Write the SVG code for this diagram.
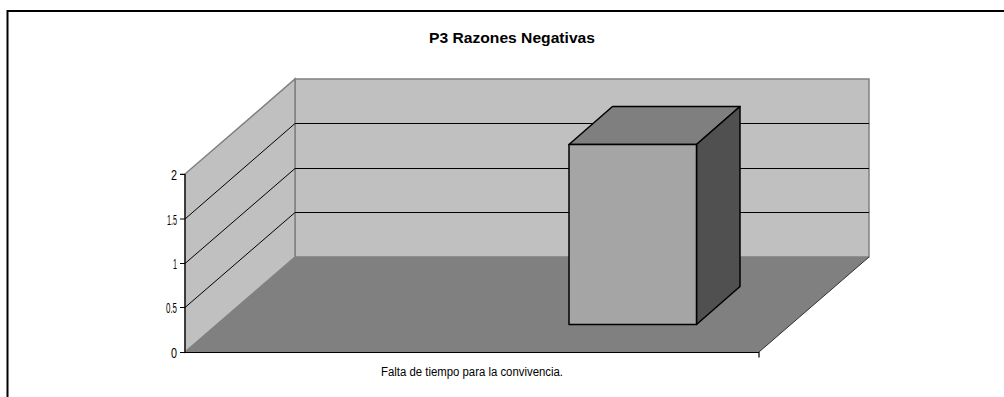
<svg xmlns="http://www.w3.org/2000/svg" width="1004" height="397" viewBox="0 0 1004 397">
<style>
.wall{fill:#C0C0C0;stroke:#808080;stroke-width:1.5}
.floor{fill:#808080;stroke:none}
.grid{stroke:#000;stroke-width:1;fill:none}
.axis{stroke:#000;stroke-width:1.2;fill:none}
.bar{stroke:#000;stroke-width:1.5;stroke-linejoin:round}
.tick{font-family:"Liberation Sans",Arial,sans-serif;font-size:14px;fill:#000;text-anchor:end}
</style>
<rect x="0" y="0" width="1004" height="397" fill="#fff"/>
<path d="M7.5 400 V11 H1010" fill="none" stroke="#000" stroke-width="2"/>
<text x="512" y="43" font-family="Liberation Sans,Arial,sans-serif" font-weight="bold" font-size="15.5" text-anchor="middle" textLength="166" lengthAdjust="spacingAndGlyphs">P3 Razones Negativas</text>
<g id="plot-area">
<polygon class="wall" points="295,79 869,79 869,257 295,257"/>
<polygon class="wall" points="185,174 295,79 295,257 185,352"/>
<polygon class="floor" points="185,352 295,257 869,257 759,352"/>
<line x1="759" y1="352" x2="869" y2="257" stroke="#333" stroke-width="1"/>
<g class="grid">
<line x1="295" y1="123.5" x2="869" y2="123.5"/>
<line x1="295" y1="168.5" x2="869" y2="168.5"/>
<line x1="295" y1="212.5" x2="869" y2="212.5"/>
<line x1="185" y1="219" x2="295" y2="123.5"/>
<line x1="185" y1="263.5" x2="295" y2="168.5"/>
<line x1="185" y1="307.5" x2="295" y2="212.5"/>
</g>
</g>
<g id="axis">
<path class="axis" d="M185 174 V352.5 H759 V357.5 M180 174.3 H185 M180 219 H185 M180 263.5 H185 M180 307.5 H185 M180 352.5 H185"/>
<text class="tick" x="177" y="180" textLength="6" lengthAdjust="spacingAndGlyphs">2</text>
<text class="tick" x="177" y="224.5" textLength="10" lengthAdjust="spacingAndGlyphs">1.5</text>
<text class="tick" x="177" y="269" textLength="4" lengthAdjust="spacingAndGlyphs">1</text>
<text class="tick" x="177" y="313" textLength="11" lengthAdjust="spacingAndGlyphs">0.5</text>
<text class="tick" x="177" y="358" textLength="6" lengthAdjust="spacingAndGlyphs">0</text>
<text x="472" y="376" font-family="Liberation Sans,Arial,sans-serif" font-size="12" text-anchor="middle" textLength="182" lengthAdjust="spacingAndGlyphs">Falta de tiempo para la convivencia.</text>
</g>
<g id="bar">
<polygon class="bar" fill="#7F7F7F" points="569,144.5 612.5,106.5 740,106.5 696.5,144.5"/>
<polygon class="bar" fill="#505050" points="696.5,144.5 740,106.5 740,286.5 696.5,324.5"/>
<rect class="bar" fill="#A5A5A5" x="569" y="144.5" width="127.5" height="180"/>
</g>
</svg>
